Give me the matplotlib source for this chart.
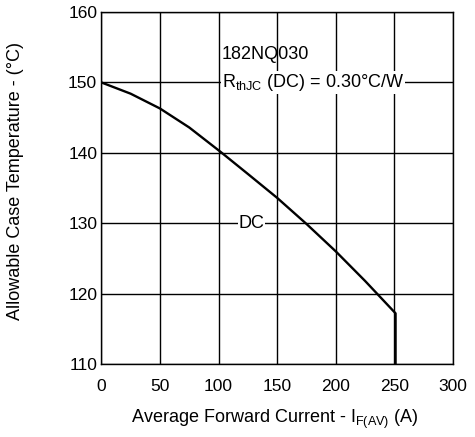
import matplotlib
matplotlib.use("Agg")
import matplotlib.pyplot as plt

# ── Data ──────────────────────────────────────────────────────────────────────
current = [0, 25, 50, 75, 102, 125, 150, 175, 200, 225, 251, 251]
temperature = [150, 148.4, 146.3, 143.6, 140.1, 137.0, 133.6, 129.9, 126.0, 121.8, 117.2, 110.0]

x_ticks = [0, 50, 100, 150, 200, 250, 300]
y_ticks = [110, 120, 130, 140, 150, 160]

FONT = ["Liberation Sans", "DejaVu Sans"]
plt.rcParams["font.family"] = FONT
plt.rcParams["mathtext.fontset"] = "custom"
plt.rcParams["mathtext.rm"] = "Liberation Sans"

fig = plt.figure(figsize=(4.75, 4.37), dpi=100)
ax = fig.add_axes([0.2133, 0.167, 0.7404, 0.8055])

ax.plot(current, temperature, color="black", linewidth=1.7, zorder=3)

ax.set_xlim(0, 300)
ax.set_ylim(110, 160)
ax.set_xticks(x_ticks)
ax.set_yticks(y_ticks)
ax.grid(True, color="black", linewidth=1.0)
ax.tick_params(length=0, labelsize=12.5)
ax.tick_params(axis="x", pad=11)
ax.tick_params(axis="y", pad=3)
for s in ax.spines.values():
    s.set_linewidth(1.0)

ax.text(103, 154, "182NQ030", fontsize=13, ha="left", va="center", zorder=4)
ax.text(103, 150, r"R$_{\rm thJC}$ (DC) = 0.30°C/W", fontsize=13, ha="left", va="center",
        bbox=dict(facecolor="white", edgecolor="none", pad=0.5), zorder=4)
ax.text(117, 130, "DC", fontsize=13, ha="left", va="center",
        bbox=dict(facecolor="white", edgecolor="none", pad=0.5), zorder=4)

ax.set_ylabel("Allowable Case Temperature - (°C)", fontsize=13)
ax.set_xlabel(r"Average Forward Current - I$_{\rm F(AV)}$ (A)", fontsize=13)
ax.yaxis.set_label_coords(-0.22, 0.52)
ax.xaxis.set_label_coords(0.494, -0.125)

fig.savefig("out.png", dpi=100)
